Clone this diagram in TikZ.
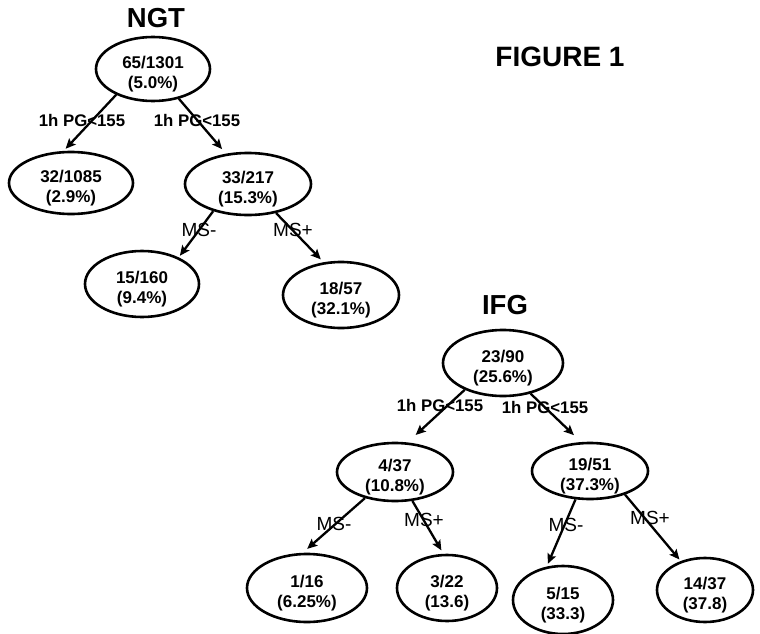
\documentclass[tikz,border=0pt]{standalone}
\usepackage{fontspec}
\setmainfont{Liberation Sans}
\usetikzlibrary{shapes.geometric,arrows.meta}
\tikzset{
  oval/.style={draw=black, line width=2.6pt, ellipse, inner sep=0pt},
  ovtext/.style={inner sep=0pt, align=center, font=\fontsize{17}{20}\selectfont\bfseries},
  arr/.style={draw=black, line width=2.3pt, -{Stealth[length=10pt,width=9pt,inset=2pt]}},
  pglab/.style={font=\fontsize{16.8}{19}\selectfont\bfseries, inner sep=0pt},
  mslab/.style={font=\fontsize{19}{22}\selectfont, inner sep=0pt},
  ttl/.style={font=\fontsize{27.5}{30}\selectfont\bfseries, inner sep=0pt}
}
\begin{document}
\begin{tikzpicture}[x=1pt,y=-1pt]
\useasboundingbox (0,0) rectangle (760,634);
% titles
\node[ttl] (tngt) at (156,18) {NGT};
\node[ttl] (tifg) at (505,305) {IFG};
\node[ttl, font=\fontsize{28}{30}\selectfont\bfseries] (tfig) at (560,57) {FIGURE 1};
% NGT tree
\node[oval, minimum width=114pt, minimum height=64pt] (n1) at (153,69) {};
\node[oval, minimum width=124pt, minimum height=62pt] (n2) at (71,183) {};
\node[oval, minimum width=126pt, minimum height=62pt] (n3) at (248,184) {};
\node[oval, minimum width=114pt, minimum height=66pt] (n4) at (142,284) {};
\node[oval, minimum width=116pt, minimum height=66pt] (n5) at (341,295) {};
\node[ovtext] (t1) at ([yshift=-5pt]n1.center) {65/1301\\(5.0\%)};
\node[ovtext] (t2) at ([yshift=-5pt]n2.center) {32/1085\\(2.9\%)};
\node[ovtext] (t3) at ([yshift=-5pt]n3.center) {33/217\\(15.3\%)};
\node[ovtext] (t4) at ([yshift=-5pt]n4.center) {15/160\\(9.4\%)};
\node[ovtext] (t5) at ([yshift=-5pt]n5.center) {18/57\\(32.1\%)};
% IFG tree
\node[oval, minimum width=120pt, minimum height=66pt] (i1) at (503,363) {};
\node[oval, minimum width=116pt, minimum height=58pt] (i2) at (395,472) {};
\node[oval, minimum width=116pt, minimum height=56pt] (i3) at (590,471) {};
\node[oval, minimum width=120pt, minimum height=68pt] (i4) at (307,588) {};
\node[oval, minimum width=100pt, minimum height=66pt] (i5) at (447,588) {};
\node[oval, minimum width=100pt, minimum height=68pt] (i6) at (563,600) {};
\node[oval, minimum width=96pt, minimum height=64pt] (i7) at (705,590) {};
\node[ovtext] (u1) at ([yshift=-5pt]i1.center) {23/90\\(25.6\%)};
\node[ovtext] (u2) at ([yshift=-5pt]i2.center) {4/37\\(10.8\%)};
\node[ovtext] (u3) at ([yshift=-5pt]i3.center) {19/51\\(37.3\%)};
\node[ovtext] (u4) at ([yshift=-5pt]i4.center) {1/16\\(6.25\%)};
\node[ovtext] (u5) at ([yshift=-5pt]i5.center) {3/22\\(13.6)};
\node[ovtext] (u6) at ([yshift=-5pt]i6.center) {5/15\\(33.3)};
\node[ovtext] (u7) at ([yshift=-5pt]i7.center) {14/37\\(37.8)};
% connectors
\draw[arr, shorten >=3pt] (n1.215) -- (n2.103);
\draw[arr, shorten >=6pt] (n1.311) -- (n3.126);
\draw[arr, shorten >=2pt] (n3.218) -- (n4.36);
\draw[arr, shorten >=4pt] (n3.314) -- (n5.118);
\draw[arr, shorten >=11pt] (i1.215) -- (i2.67);
\draw[arr, shorten >=10pt] (i1.312) -- (i3.107);
\draw[arr, shorten >=6pt] (i2.221) -- (i4.97);
\draw[arr, shorten >=4pt] (i2.301) -- (i5.96);
\draw[arr, shorten >=3pt] (i3.243) -- (i6.116);
\draw[arr, shorten >=2pt] (i3.326) -- (i7.130);
% labels
\node[pglab] (l1) at (82,120) {1h PG<155};
\node[pglab] (l2) at (197,120) {1h PG<155};
\node[mslab] (l3) at (199,230) {MS-};
\node[mslab] (l4) at (293,230) {MS+};
\node[pglab] (l5) at (440,405) {1h PG<155};
\node[pglab] (l6) at (545,407) {1h PG<155};
\node[mslab] (l7) at (334,524) {MS-};
\node[mslab] (l8) at (424,520) {MS+};
\node[mslab] (l9) at (566,525) {MS-};
\node[mslab] (l10) at (650,518) {MS+};
\end{tikzpicture}
\end{document}
